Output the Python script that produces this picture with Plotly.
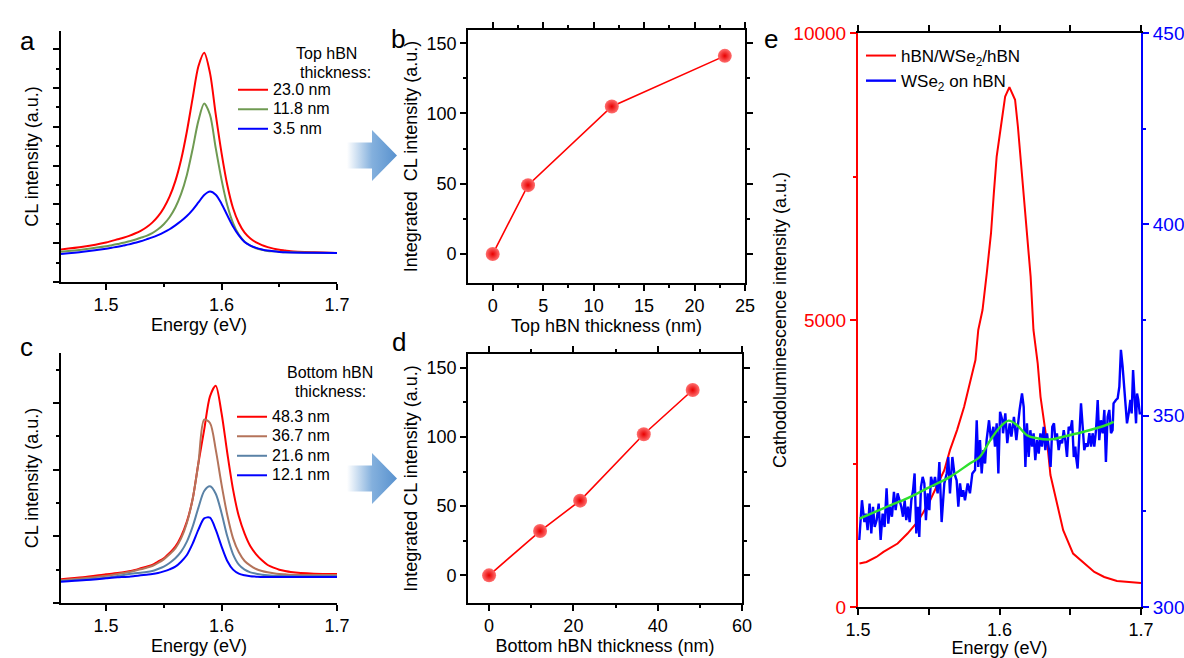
import plotly.graph_objects as go

FONT = "Liberation Sans, Arial, sans-serif"
W, H = 1184, 658

# ---------------- data ----------------
# panels a and c share one energy grid (eV)
energy_a = [1.461, 1.48, 1.50, 1.505, 1.51, 1.515, 1.52, 1.525, 1.53, 1.535, 1.54, 1.545,
            1.55, 1.555, 1.56, 1.565, 1.57, 1.575, 1.58, 1.585, 1.59, 1.595, 1.60, 1.605,
            1.61, 1.615, 1.62, 1.625, 1.63, 1.635, 1.64, 1.645, 1.65, 1.655, 1.66, 1.68, 1.70]
# panel a: CL spectra vs top hBN thickness (arb. units)
a_23_0 = [0.84, 0.91, 1.02, 1.06, 1.10, 1.14, 1.19, 1.25, 1.32, 1.41, 1.53, 1.69,
          1.91, 2.20, 2.60, 3.15, 3.88, 4.74, 5.56, 5.91, 5.39, 4.32, 3.33, 2.50,
          1.90, 1.52, 1.27, 1.12, 1.02, 0.95, 0.90, 0.86, 0.83, 0.81, 0.79, 0.765, 0.75]
a_11_8 = [0.78, 0.84, 0.92, 0.95, 0.98, 1.01, 1.05, 1.09, 1.14, 1.19, 1.26, 1.36,
          1.49, 1.67, 1.92, 2.27, 2.76, 3.43, 4.16, 4.60, 4.31, 3.45, 2.64, 1.98,
          1.52, 1.22, 1.04, 0.94, 0.87, 0.83, 0.80, 0.79, 0.78, 0.77, 0.765, 0.755, 0.75]
a_3_5 = [0.72, 0.78, 0.86, 0.885, 0.91, 0.94, 0.97, 1.01, 1.05, 1.10, 1.15, 1.21,
         1.28, 1.36, 1.46, 1.57, 1.70, 1.86, 2.05, 2.24, 2.33, 2.25, 2.02, 1.72,
         1.43, 1.20, 1.03, 0.94, 0.88, 0.84, 0.81, 0.79, 0.775, 0.765, 0.76, 0.755, 0.75]
a_labels = ["23.0 nm", "11.8 nm", "3.5 nm"]

# panel c: CL spectra vs bottom hBN thickness (arb. units)
energy_c = energy_a
c_48_3 = [0.355, 0.385, 0.43, 0.44, 0.45, 0.46, 0.475, 0.495, 0.52, 0.545, 0.57, 0.62,
          0.67, 0.75, 0.845, 1.0, 1.22, 1.56, 2.1, 2.6, 3.1, 3.26, 2.85, 2.25,
          1.7, 1.3, 1.04, 0.85, 0.73, 0.64, 0.57, 0.53, 0.50, 0.48, 0.465, 0.44, 0.435]
c_36_7 = [0.34, 0.37, 0.41, 0.42, 0.435, 0.45, 0.465, 0.485, 0.505, 0.53, 0.555, 0.60,
          0.655, 0.73, 0.82, 0.97, 1.2, 1.56, 2.1, 2.75, 2.7, 2.3, 1.78, 1.32,
          0.97, 0.76, 0.63, 0.56, 0.51, 0.48, 0.46, 0.445, 0.435, 0.43, 0.425, 0.42, 0.42]
c_21_6 = [0.33, 0.35, 0.38, 0.39, 0.405, 0.42, 0.435, 0.445, 0.455, 0.465, 0.48, 0.51,
          0.545, 0.60, 0.67, 0.77, 0.92, 1.145, 1.43, 1.68, 1.75, 1.64, 1.35, 1.0,
          0.73, 0.575, 0.50, 0.46, 0.44, 0.425, 0.415, 0.41, 0.41, 0.405, 0.405, 0.40, 0.40]
c_12_1 = [0.32, 0.34, 0.37, 0.378, 0.385, 0.39, 0.395, 0.405, 0.415, 0.425, 0.435, 0.45,
          0.475, 0.505, 0.545, 0.62, 0.72, 0.89, 1.10, 1.27, 1.28, 1.10, 0.85, 0.63,
          0.50, 0.44, 0.415, 0.40, 0.395, 0.39, 0.39, 0.39, 0.39, 0.39, 0.39, 0.39, 0.39]
c_labels = ["48.3 nm", "36.7 nm", "21.6 nm", "12.1 nm"]

# panel b: integrated intensity vs top hBN thickness
top_thick = [0, 3.5, 11.8, 23.0]
top_int = [0, 49, 105, 141]

# panel d: integrated intensity vs bottom hBN thickness
bot_thick = [0, 12.1, 21.6, 36.7, 48.3]
bot_int = [0, 32, 54, 102, 134]

# panel e: hBN/WSe2/hBN (left axis)
e_red_energy = [1.501, 1.506, 1.513, 1.518, 1.528, 1.535, 1.542, 1.546, 1.551, 1.556, 1.561,
                1.565, 1.570, 1.575, 1.579, 1.583, 1.585, 1.588, 1.591, 1.594, 1.596, 1.598,
                1.601, 1.603, 1.604, 1.607, 1.609, 1.611, 1.613, 1.615, 1.617, 1.619, 1.622,
                1.624, 1.627, 1.629, 1.634, 1.636, 1.641, 1.645, 1.652, 1.660, 1.667, 1.674,
                1.683, 1.700]
e_red_int = [757, 785, 872, 959, 1105, 1280, 1483, 1640, 1861, 2122, 2384,
             2733, 3082, 3488, 3896, 4302, 4826, 5174, 5814, 6512, 7210, 7848,
             8371, 8779, 8894, 9058, 8953, 8837, 8371, 7790, 7210, 6512, 5755,
             4826, 4245, 3662, 2790, 2300, 1750, 1338, 931, 757, 610, 523,
             453, 419]

# panel e: WSe2 on hBN (right axis)
e_blue_energy = [
    1.5009, 1.5028, 1.5045, 1.5056, 1.5068, 1.5082, 1.5094, 1.5106, 1.5118, 1.5132,
    1.5146, 1.5160, 1.5174, 1.5188, 1.5202, 1.5214, 1.5226, 1.5240, 1.5254, 1.5266,
    1.5280, 1.5294, 1.5306, 1.5318, 1.5330, 1.5341, 1.5353, 1.5365, 1.5377, 1.5389,
    1.5400, 1.5412, 1.5424, 1.5433, 1.5445, 1.5457, 1.5469, 1.5480, 1.5492, 1.5504,
    1.5516, 1.5532, 1.5544, 1.5563, 1.5575, 1.5591, 1.5610, 1.5627, 1.5638, 1.5650,
    1.5667, 1.5681, 1.5697, 1.5709, 1.5721, 1.5733, 1.5744, 1.5756, 1.5775, 1.5791,
    1.5808, 1.5827, 1.5839, 1.5850, 1.5862, 1.5874, 1.5886, 1.5898, 1.5909, 1.5926,
    1.5940, 1.5957, 1.5968, 1.5980, 1.5992, 1.6004, 1.6020, 1.6025, 1.6041, 1.6055,
    1.6072, 1.6084, 1.6102, 1.6119, 1.6131, 1.6142, 1.6159, 1.6171, 1.6183, 1.6194,
    1.6206, 1.6218, 1.6230, 1.6241, 1.6253, 1.6265, 1.6277, 1.6289, 1.6300, 1.6312,
    1.6324, 1.6336, 1.6347, 1.6361, 1.6373, 1.6385, 1.6395, 1.6406, 1.6418, 1.6430,
    1.6442, 1.6454, 1.6465, 1.6477, 1.6489, 1.6501, 1.6513, 1.6525, 1.6536, 1.6541,
    1.6552, 1.6564, 1.6576, 1.6588, 1.6599, 1.6611, 1.6623, 1.6635, 1.6647, 1.6658,
    1.6670, 1.6682, 1.6694, 1.6705, 1.6717, 1.6729, 1.6741, 1.6752, 1.6764, 1.6776,
    1.6788, 1.6799, 1.6806, 1.6823, 1.6835, 1.6847, 1.6858, 1.6870, 1.6882, 1.6894,
    1.6901, 1.6913, 1.6925, 1.6934, 1.6944, 1.6953, 1.6965, 1.6972, 1.6981, 1.6991,
    1.7000]
e_blue_int = [
    317.5, 327.9, 322.2, 324.4, 320.1, 327.0, 319.2, 326.2, 320.9, 322.7,
    327.0, 317.5, 324.4, 320.9, 331.0, 321.8, 326.2, 323.6, 330.1, 325.3,
    329.7, 327.9, 326.2, 323.6, 327.9, 322.7, 326.2, 322.2, 327.9, 330.5,
    334.9, 319.2, 326.2, 318.3, 331.4, 334.0, 332.3, 322.7, 329.7, 325.3,
    334.0, 331.4, 334.0, 329.7, 337.9, 322.2, 332.3, 334.9, 339.2, 329.7,
    339.2, 334.9, 333.1, 326.2, 332.3, 328.8, 330.5, 327.9, 332.3, 329.7,
    334.9, 335.8, 348.8, 336.6, 343.6, 334.9, 341.0, 337.5, 343.6, 348.8,
    343.6, 347.1, 341.9, 348.0, 334.9, 351.0, 348.8, 345.4, 350.6, 342.8,
    348.0, 344.5, 349.7, 343.6, 348.8, 351.5, 355.8, 352.3, 336.6, 348.0,
    339.2, 346.2, 341.9, 345.4, 338.4, 343.6, 340.1, 345.4, 341.9, 347.1,
    341.0, 345.4, 341.9, 336.6, 347.1, 348.0, 343.6, 345.4, 341.0, 343.6,
    342.8, 346.2, 343.6, 339.2, 347.1, 346.2, 348.8, 339.2, 341.9, 339.2,
    336.2, 343.6, 353.2, 347.1, 341.0, 342.8, 341.9, 345.4, 341.9, 345.4,
    341.9, 346.2, 354.1, 343.6, 348.8, 345.4, 351.5, 337.9, 349.7, 351.5,
    345.4, 346.2, 353.2, 354.1, 354.5, 357.6, 367.2, 362.8, 357.6, 352.3,
    348.0, 350.6, 354.1, 350.6, 361.9, 355.8, 348.0, 355.8, 354.1, 350.6,
    350.6]

# panel e: fitted curve to WSe2 on hBN (right axis)
e_fit_energy = [1.501, 1.5205, 1.537, 1.551, 1.565, 1.579, 1.586, 1.5935, 1.6006, 1.6065,
                1.6124, 1.6194, 1.6265, 1.636, 1.645, 1.6595, 1.6736, 1.6807]
e_fit_int = [323.1, 326.2, 328.8, 331.4, 334.0, 337.5, 339.2, 343.6, 347.1, 348.7,
             347.5, 344.9, 344.1, 343.8, 344.5, 345.8, 347.3, 348.4]
e_labels = ["hBN/WSe<sub>2</sub>/hBN", "WSe<sub>2</sub> on hBN"]

# ---------------- figure ----------------
def px_x(p):
    return p / W

def px_y(p):
    return 1 - p / H

LEG_FS = 12.7   # sets legend row pitch (~19.5 px); entry text itself drawn at 16 px


def leg_text(s, size=16):
    return '<span style="font-size:%dpx">%s</span>' % (size, s)


fig = go.Figure()

# panel a
for vals, lab, col in zip([a_23_0, a_11_8, a_3_5], a_labels, ["#ff0000", "#6f9a52", "#0000ff"]):
    fig.add_trace(go.Scatter(x=energy_a, y=vals, mode="lines", name=leg_text(lab),
                             line=dict(color=col, width=2, shape="spline", smoothing=0.8),
                             xaxis="x", yaxis="y", legend="legend"))
# panel c
for vals, lab, col in zip([c_48_3, c_36_7, c_21_6, c_12_1], c_labels,
                          ["#ff0000", "#b4735a", "#5a82a6", "#0000ff"]):
    fig.add_trace(go.Scatter(x=energy_c, y=vals, mode="lines", name=leg_text(lab),
                             line=dict(color=col, width=2, shape="spline", smoothing=0.8),
                             xaxis="x3", yaxis="y3", legend="legend2"))

ball = dict(size=14, color="#ff7070", gradient=dict(type="radial", color="#e80000"),
            line=dict(width=0))
# panel b
fig.add_trace(go.Scatter(x=top_thick, y=top_int, mode="lines+markers", showlegend=False,
                         line=dict(color="#ff0000", width=1.6), marker=ball,
                         xaxis="x2", yaxis="y2"))
# panel d
fig.add_trace(go.Scatter(x=bot_thick, y=bot_int, mode="lines+markers", showlegend=False,
                         line=dict(color="#ff0000", width=1.6), marker=ball,
                         xaxis="x4", yaxis="y4"))

# panel e
fig.add_trace(go.Scatter(x=e_red_energy, y=e_red_int, mode="lines", name=e_labels[0],
                         line=dict(color="#ff0000", width=2),
                         xaxis="x5", yaxis="y5", legend="legend3"))
fig.add_trace(go.Scatter(x=e_blue_energy, y=e_blue_int, mode="lines", name=e_labels[1],
                         line=dict(color="#0000ff", width=2.4),
                         xaxis="x5", yaxis="y6", legend="legend3"))
fig.add_trace(go.Scatter(x=e_fit_energy, y=e_fit_int, mode="lines", showlegend=False,
                         line=dict(color="#2ee02e", width=2.4, shape="spline"),
                         xaxis="x5", yaxis="y6"))

# decorative gradient arrows (pixel overlay)
arrow_shape_x = [347, 372, 372, 397, 372, 372, 347, 347]
for yc in (155.5, 478.5):
    ys = [yc - 13, yc - 13, yc - 25.5, yc, yc + 25.5, yc + 13, yc + 13, yc - 13]
    fig.add_trace(go.Scatter(x=arrow_shape_x, y=ys, mode="lines", fill="toself",
                             line=dict(width=0, color="rgba(0,0,0,0)"), showlegend=False,
                             hoverinfo="skip",
                             fillgradient=dict(type="horizontal",
                                               colorscale=[[0, "rgba(91,150,210,0.0)"],
                                                           [0.5, "rgba(91,150,210,0.75)"],
                                                           [1, "rgba(88,145,206,1)"]]),
                             xaxis="x7", yaxis="y7"))

tickfont = dict(family=FONT, size=18, color="black")


def base_axis(**kw):
    d = dict(showline=True, linecolor="black", linewidth=1.6, ticks="outside",
             ticklen=6, tickwidth=1.5, tickcolor="black", showgrid=False, zeroline=False,
             tickfont=tickfont, automargin=False)
    d.update(kw)
    return d


def minor(t0, dt, color="black"):
    return dict(tick0=t0, dtick=dt, ticklen=3, ticks="outside", tickwidth=1.5, tickcolor=color)


title_font = dict(family=FONT, size=18, color="black")

fig.update_layout(
    width=W, height=H, margin=dict(l=0, r=0, t=0, b=0),
    paper_bgcolor="white", plot_bgcolor="rgba(0,0,0,0)",
    font=dict(family=FONT, size=18, color="black"),
    # panel a
    xaxis=base_axis(domain=[px_x(61), px_x(337)], anchor="y", range=[1.461, 1.7],
                    tick0=1.5, dtick=0.1, minor=minor(1.55, 0.1),
                    title=dict(text="Energy (eV)", font=title_font, standoff=4)),
    yaxis=base_axis(domain=[px_y(282), px_y(31)], anchor="x", range=[0, 6.47],
                    tick0=0, dtick=1, showticklabels=False, minor=minor(0.5, 1),
                    title=dict(text="CL intensity (a.u.)", font=title_font, standoff=10)),
    # panel b
    xaxis2=base_axis(domain=[px_x(468), px_x(745)], anchor="y2", range=[-2.45, 25],
                     tick0=0, dtick=5, mirror="allticks", minor=minor(2.5, 5),
                     title=dict(text="Top hBN thickness (nm)", font=title_font, standoff=4)),
    yaxis2=base_axis(domain=[px_y(283), px_y(30)], anchor="x2", range=[-20.6, 159.4],
                     tick0=0, dtick=50, mirror="allticks", minor=minor(25, 50),
                     title=dict(text="Integrated  CL intensity (a.u.)", font=title_font, standoff=4)),
    # panel c
    xaxis3=base_axis(domain=[px_x(61), px_x(337)], anchor="y3", range=[1.461, 1.7],
                     tick0=1.5, dtick=0.1, minor=minor(1.55, 0.1),
                     title=dict(text="Energy (eV)", font=title_font, standoff=4)),
    yaxis3=base_axis(domain=[px_y(603), px_y(353)], anchor="x3", range=[0, 3.75],
                     tick0=0, dtick=1, showticklabels=False, minor=minor(0.5, 1),
                     title=dict(text="CL intensity (a.u.)", font=title_font, standoff=10)),
    # panel d
    xaxis4=base_axis(domain=[px_x(468), px_x(742)], anchor="y4", range=[-5, 60],
                     tick0=0, dtick=20, mirror="allticks", minor=minor(10, 20),
                     title=dict(text="Bottom hBN thickness (nm)", font=title_font, standoff=4)),
    yaxis4=base_axis(domain=[px_y(603), px_y(354)], anchor="x4", range=[-20, 160],
                     tick0=0, dtick=50, mirror="allticks", minor=minor(25, 50),
                     title=dict(text="Integrated CL intensity (a.u.)", font=title_font, standoff=4)),
    # panel e
    xaxis5=base_axis(domain=[px_x(858), px_x(1141)], anchor="y5", range=[1.5, 1.7],
                     tick0=1.5, dtick=0.1, mirror="allticks", minor=minor(1.55, 0.1),
                     title=dict(text="Energy (eV)", font=title_font, standoff=6)),
    yaxis5=base_axis(domain=[px_y(607), px_y(33)], anchor="x5", range=[0, 10000],
                     tickvals=[0, 5000, 10000], tickformat="d", linecolor="#ff0000", linewidth=2,
                     tickcolor="#ff0000", tickfont=dict(family=FONT, size=19, color="#ff0000"),
                     minor=minor(2500, 5000, "#ff0000"),
                     title=dict(text="Cathodoluminescence intensity (a.u.)", font=title_font, standoff=2)),
    yaxis6=base_axis(domain=[px_y(607), px_y(33)], anchor="x5", overlaying="y5", side="right",
                     range=[300, 450], tick0=300, dtick=50, linecolor="#0000ff", linewidth=2,
                     tickcolor="#0000ff", tickfont=dict(family=FONT, size=19, color="#0000ff"),
                     minor=minor(325, 50, "#0000ff")),
    # pixel overlay for decorations
    xaxis7=dict(domain=[0, 1], range=[0, W], visible=False, anchor="y7", fixedrange=True),
    yaxis7=dict(domain=[0, 1], range=[H, 0], visible=False, anchor="x7", fixedrange=True),
    legend=dict(x=px_x(233), y=px_y(75), xanchor="left", yanchor="top",
                bgcolor="rgba(0,0,0,0)", font=dict(family=FONT, size=LEG_FS, color="black"),
                itemwidth=30, tracegroupgap=0),
    legend2=dict(x=px_x(232), y=px_y(402), xanchor="left", yanchor="top",
                 bgcolor="rgba(0,0,0,0)", font=dict(family=FONT, size=LEG_FS, color="black"),
                 itemwidth=30, tracegroupgap=0),
    legend3=dict(x=px_x(861), y=px_y(38), xanchor="left", yanchor="top",
                 bgcolor="rgba(0,0,0,0)", font=dict(family=FONT, size=17, color="black"),
                 itemwidth=30, tracegroupgap=0),
)

for txt, x, y in [("a", 18, 24), ("b", 398, 22), ("c", 18, 347), ("d", 399, 342), ("e", 771, 22)]:
    fig.add_annotation(text=txt, x=px_x(x), y=px_y(y), xref="paper", yref="paper",
                       showarrow=False, font=dict(family=FONT, size=26, color="black"))
for txt, x, y in [("Top hBN", 294, 43), ("thickness:", 298, 62),
                  ("Bottom hBN", 285, 372), ("thickness:", 293, 391)]:
    fig.add_annotation(text=txt, x=px_x(x), y=px_y(y), xref="paper", yref="paper",
                       showarrow=False, font=dict(family=FONT, size=16, color="black"))

# remove the default page margin so the 1184x658 figure fills the window exactly
fig.write_html("out.html",
               config={"displayModeBar": False},
               post_script="document.body.style.margin='0';"
                           "document.documentElement.style.overflow='hidden';"
                           "document.body.style.overflow='hidden';")
